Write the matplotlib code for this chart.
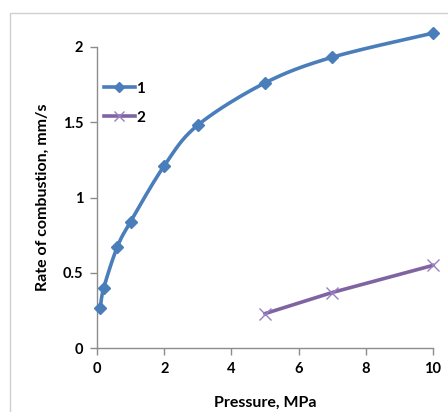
import numpy as np
import matplotlib
matplotlib.use("Agg")
import matplotlib.pyplot as plt
from matplotlib.patches import Rectangle
from matplotlib.lines import Line2D

# Data
p1 = [0.1, 0.2, 0.6, 1.0, 2.0, 3.0, 5.0, 7.0, 10.0]
r1 = [0.27, 0.40, 0.67, 0.84, 1.21, 1.48, 1.76, 1.93, 2.09]
p2 = [5.0, 7.0, 10.0]
r2 = [0.23, 0.37, 0.55]
series_labels = ["1", "2"]
xticks = [0, 2, 4, 6, 8, 10]
yticks = [0, 0.5, 1, 1.5, 2]
ytick_labels = ["0", "0.5", "1", "1.5", "2"]

def smooth(x, y, n=20):
    # Catmull-Rom style smoothing of the drawn line (Excel "smoothed line")
    x = np.asarray(x, float); y = np.asarray(y, float)
    P = np.column_stack([x, y])
    P = np.vstack([P[0], P, P[-1]])
    out = []
    for i in range(1, len(P) - 2):
        p0, p1_, p2_, p3 = P[i - 1], P[i], P[i + 1], P[i + 2]
        t = np.linspace(0, 1, n, endpoint=False)[:, None]
        pts = 0.5 * ((2 * p1_) + (-p0 + p2_) * t + (2 * p0 - 5 * p1_ + 4 * p2_ - p3) * t**2
                     + (-p0 + 3 * p1_ - 3 * p2_ + p3) * t**3)
        out.append(pts)
    out.append(P[-2][None, :])
    out = np.vstack(out)
    return out[:, 0], out[:, 1]

W, H = 448, 412
fig = plt.figure(figsize=(W / 100, H / 100), dpi=100)
plt.rcParams['font.family'] = ['Lato', 'DejaVu Sans']

# chart area border
fig.patches.append(Rectangle((10 / W, -0.1), 1.2, 1 - 13 / H + 0.1, transform=fig.transFigure,
                             fill=False, edgecolor="#d0d0d0", linewidth=1.0))

left, right, top, bottom = 97, 433, 46.7, 348.3
ax = fig.add_axes([left / W, 1 - bottom / H, (right - left) / W, (bottom - top) / H])

blue = "#4A7EBB"
purple = "#8064A2"

sx, sy = smooth(p1, r1)
ax.plot(sx, sy, color=blue, lw=2.6, solid_capstyle="round", zorder=3, clip_on=False)
ax.plot(p1, r1, linestyle="none", marker="D", markersize=6.5, color=blue, zorder=4, clip_on=False)
ax.plot(p2, r2, color=purple, lw=2.6, marker="x", markersize=9, markeredgewidth=1.0,
        markeredgecolor="#9a7fc0", zorder=3, clip_on=False)

ax.set_xlim(0, 10)
ax.set_ylim(0, 2)
ax.set_xticks(xticks)
ax.set_yticks(yticks)
ax.set_yticklabels(ytick_labels)
for s in ["top", "right"]:
    ax.spines[s].set_visible(False)
for s in ["left", "bottom"]:
    ax.spines[s].set_color("#8c8c8c")
    ax.spines[s].set_linewidth(1.0)
ax.tick_params(direction="out", length=5, width=1, color="#8c8c8c", labelsize=10.5, pad=5)
for lab in ax.get_xticklabels() + ax.get_yticklabels():
    lab.set_fontweight("bold")
ax.set_xlabel("Pressure, MPa", fontsize=11.5, fontweight="bold", labelpad=14)
ax.set_ylabel("Rate of combustion, mm/s", fontsize=11.5, fontweight="bold", labelpad=9)
ax.patch.set_alpha(0)

# legend
h1 = Line2D([], [], color=blue, lw=2.6, marker="D", markersize=5)
h2 = Line2D([], [], color=purple, lw=2.6, marker="x", markersize=7, markeredgewidth=1.0,
            markeredgecolor="#9a7fc0")
leg = ax.legend([h1, h2], series_labels, loc="upper left", bbox_to_anchor=(-0.02, 0.93),
                frameon=False, handlelength=2.0, handletextpad=0.1, labelspacing=1.0,
                prop={"weight": "bold", "size": 11})

fig.savefig("out.png", dpi=100, facecolor="white")
